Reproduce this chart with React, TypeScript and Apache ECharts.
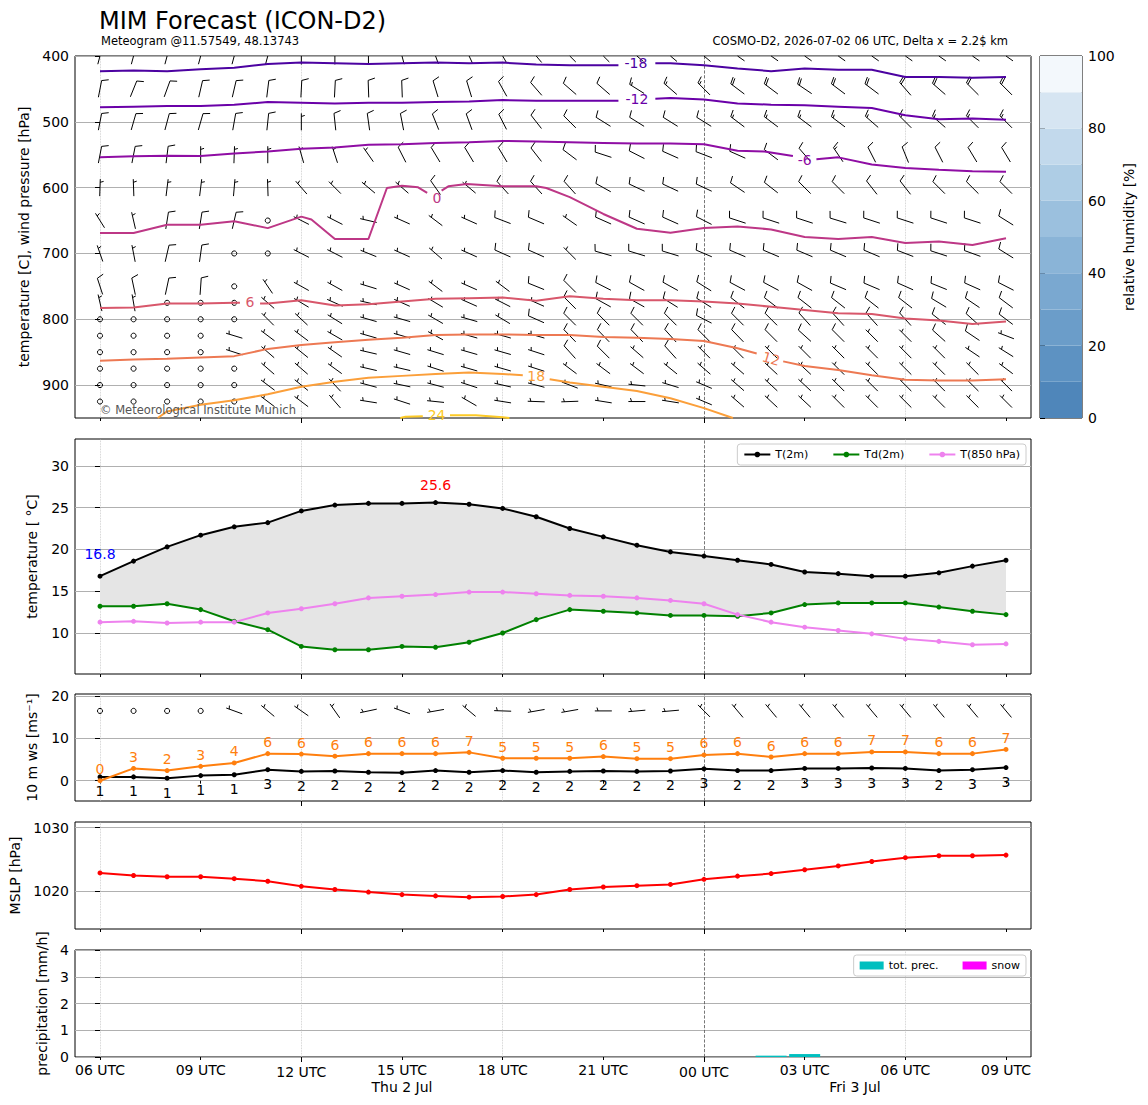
import React, { useEffect, useRef } from 'react';
import * as echarts from 'echarts';

const FONT = 'DejaVu Sans';

// ---------------- time axis (hours after 2026-07-02 06 UTC) ----------------
const HOURS = [0, 1, 2, 3, 4, 5, 6, 7, 8, 9, 10, 11, 12, 13, 14, 15, 16, 17, 18, 19, 20, 21, 22, 23, 24, 25, 26, 27];
const START_UTC_HOUR = 6;
const MINOR_TICKS = [0, 3, 9, 12, 15, 21, 24, 27];
const MAJOR_TICKS = [6, 18];
const GRID_HOURS = [0, 6, 12, 24];
const MIDNIGHT_HOURS = [18];
const DATE_LABELS = ['Thu 2 Jul', 'Fri 3 Jul'];

// ---------------- panel 2: temperatures ----------------
const T_2M = [16.8, 18.6, 20.3, 21.7, 22.7, 23.2, 24.6, 25.3, 25.5, 25.5, 25.6, 25.4, 24.9, 23.9, 22.5, 21.5, 20.5, 19.7, 19.2, 18.7, 18.2, 17.3, 17.1, 16.8, 16.8, 17.2, 18.0, 18.7];
const TD_2M = [13.2, 13.2, 13.5, 12.8, 11.4, 10.4, 8.4, 8.0, 8.0, 8.4, 8.3, 8.9, 10.0, 11.6, 12.8, 12.6, 12.4, 12.1, 12.1, 12.0, 12.4, 13.4, 13.6, 13.6, 13.6, 13.1, 12.6, 12.2];
const T_850 = [11.3, 11.4, 11.2, 11.3, 11.3, 12.4, 12.9, 13.5, 14.2, 14.4, 14.6, 14.9, 14.9, 14.7, 14.5, 14.4, 14.2, 13.9, 13.5, 12.2, 11.3, 10.7, 10.3, 9.9, 9.3, 9.0, 8.6, 8.7];

// ---------------- panel 3: 10 m wind ----------------
const WS_10M = [0.9, 0.9, 0.6, 1.2, 1.4, 2.6, 2.2, 2.3, 2.0, 1.9, 2.4, 2.0, 2.4, 2.0, 2.2, 2.3, 2.2, 2.3, 2.8, 2.4, 2.4, 2.9, 2.9, 3.0, 2.9, 2.4, 2.6, 3.1];
const GUST_10M = [0.0, 2.9, 2.4, 3.4, 4.2, 6.4, 6.3, 5.8, 6.4, 6.4, 6.4, 6.7, 5.3, 5.3, 5.3, 5.7, 5.2, 5.2, 6.1, 6.4, 5.6, 6.4, 6.4, 6.8, 6.8, 6.4, 6.4, 7.4];
const DIR_10M = [0, 0, 0, 0, 290, 310, 305, 325, 258, 290, 260, 310, 272, 260, 260, 270, 265, 265, 315, 320, 320, 320, 320, 320, 320, 320, 320, 320];
const BARB_ROW_10M = 16.5;
const MS_TO_KT = 1.94384;

// ---------------- panel 4: MSLP ----------------
const MSLP = [1022.9, 1022.5, 1022.3, 1022.3, 1022.0, 1021.6, 1020.8, 1020.3, 1019.9, 1019.5, 1019.3, 1019.1, 1019.2, 1019.5, 1020.3, 1020.7, 1020.9, 1021.1, 1021.9, 1022.4, 1022.8, 1023.4, 1024.0, 1024.7, 1025.3, 1025.6, 1025.6, 1025.7];

// ---------------- panel 5: precipitation ----------------
const PRECIP = [0, 0, 0, 0, 0, 0, 0, 0, 0, 0, 0, 0, 0, 0, 0, 0, 0, 0, 0, 0, 0.05, 0.11, 0, 0, 0, 0, 0, 0];
const SNOW = [0, 0, 0, 0, 0, 0, 0, 0, 0, 0, 0, 0, 0, 0, 0, 0, 0, 0, 0, 0, 0, 0, 0, 0, 0, 0, 0, 0];

// ---------------- panel 1: upper-air winds (direction deg, speed kt) ----------------
const LEVELS = [400, 450, 500, 550, 600, 650, 700, 750, 775, 800, 825, 850, 875, 900, 925];
const DIR_400 = [15, 15, 15, 15, 15, 15, 0, 0, 0, 345, 340, 335, 330, 320, 315, 315, 310, 310, 310, 305, 305, 305, 305, 305, 305, 305, 305, 305];
const SPD_400 = [10, 10, 10, 10, 10, 10, 10, 10, 10, 15, 15, 15, 15, 15, 15, 15, 15, 15, 15, 20, 20, 20, 20, 20, 20, 20, 20, 20];
const DIR_450 = [11, 22, 20, 13, 13, 7, 3, 3, 358, 358, 343, 343, 331, 319, 311, 311, 302, 311, 315, 307, 307, 304, 307, 307, 319, 311, 315, 315];
const SPD_450 = [10, 10, 10, 10, 10, 10, 10, 10, 10, 10, 10, 10, 10, 10, 10, 10, 15, 15, 15, 20, 20, 20, 20, 20, 20, 20, 20, 20];
const DIR_500 = [11, 16, 15, 16, 10, 6, 0, 354, 352, 349, 338, 340, 333, 322, 315, 302, 302, 302, 302, 307, 307, 307, 307, 311, 315, 311, 315, 315];
const SPD_500 = [10, 10, 10, 10, 10, 10, 5, 10, 10, 10, 10, 10, 10, 10, 10, 10, 10, 10, 10, 15, 15, 15, 15, 15, 15, 15, 15, 15];
const DIR_550 = [11, 11, 7, 0, 2, 0, 344, 342, 325, 333, 329, 329, 329, 322, 307, 288, 297, 294, 291, 294, 307, 319, 326, 333, 338, 333, 329, 329];
const SPD_550 = [10, 10, 10, 5, 5, 5, 5, 5, 5, 10, 10, 10, 10, 10, 10, 10, 10, 10, 10, 10, 10, 10, 15, 10, 10, 10, 10, 10];
const DIR_600 = [2, 358, 7, 7, 5, 358, 319, 315, 310, 311, 325, 310, 318, 318, 318, 299, 295, 295, 295, 304, 308, 315, 315, 322, 322, 315, 315, 315];
const SPD_600 = [5, 5, 5, 5, 5, 5, 5, 5, 5, 5, 10, 5, 10, 10, 10, 10, 10, 10, 10, 10, 10, 10, 10, 10, 10, 10, 10, 10];
const DIR_650 = [328, 347, 9, 9, 13, 0, 297, 297, 283, 294, 307, 294, 291, 293, 305, 294, 294, 294, 297, 288, 288, 288, 287, 288, 288, 288, 288, 302];
const SPD_650 = [5, 5, 10, 10, 10, 0, 5, 5, 5, 5, 5, 5, 10, 10, 5, 10, 10, 10, 10, 10, 10, 10, 10, 10, 10, 10, 10, 10];
const DIR_700 = [341, 349, 13, 8, 0, 0, 297, 297, 292, 294, 311, 294, 294, 294, 315, 286, 287, 287, 293, 293, 293, 293, 293, 293, 291, 288, 290, 302];
const SPD_700 = [5, 5, 10, 10, 0, 0, 5, 5, 5, 5, 5, 5, 10, 10, 5, 10, 10, 10, 10, 10, 10, 10, 10, 10, 10, 10, 10, 10];
const DIR_750 = [342, 348, 12, 4, 0, 326, 299, 299, 287, 294, 307, 294, 307, 292, 315, 297, 299, 299, 302, 298, 298, 299, 293, 293, 294, 292, 294, 297];
const SPD_750 = [10, 10, 10, 10, 0, 5, 5, 5, 5, 5, 5, 5, 5, 10, 10, 10, 10, 10, 10, 10, 10, 10, 10, 10, 10, 10, 10, 10];
const DIR_775 = [347, 350, 0, 0, 0, 311, 301, 294, 283, 294, 301, 294, 297, 294, 315, 299, 299, 302, 302, 308, 308, 308, 308, 308, 308, 301, 304, 307];
const SPD_775 = [5, 5, 0, 0, 0, 5, 5, 5, 5, 5, 5, 5, 5, 5, 10, 10, 10, 10, 10, 10, 10, 10, 10, 10, 10, 10, 10, 10];
const DIR_800 = [0, 0, 0, 0, 0, 315, 313, 302, 286, 286, 300, 286, 301, 294, 315, 315, 315, 315, 297, 315, 315, 318, 318, 318, 318, 308, 312, 307];
const SPD_800 = [0, 0, 0, 0, 0, 5, 5, 5, 5, 5, 5, 5, 5, 10, 10, 10, 10, 10, 10, 10, 10, 10, 10, 10, 10, 10, 10, 10];
const DIR_825 = [0, 0, 0, 0, 287, 307, 307, 300, 286, 286, 299, 286, 286, 286, 316, 316, 316, 318, 315, 316, 315, 312, 315, 315, 315, 312, 304, 291];
const SPD_825 = [0, 0, 0, 0, 5, 5, 5, 5, 5, 5, 5, 5, 5, 5, 10, 10, 10, 10, 10, 10, 10, 10, 10, 5, 5, 10, 10, 5];
const DIR_850 = [0, 0, 0, 0, 288, 311, 309, 305, 283, 286, 287, 286, 286, 288, 318, 315, 311, 318, 315, 315, 315, 315, 315, 315, 315, 315, 304, 302];
const SPD_850 = [0, 0, 0, 0, 5, 5, 5, 5, 5, 5, 5, 5, 5, 5, 10, 10, 5, 10, 5, 5, 5, 5, 5, 5, 5, 5, 5, 5];
const DIR_875 = [0, 0, 0, 0, 0, 311, 311, 306, 283, 283, 288, 286, 286, 288, 307, 307, 307, 309, 311, 311, 313, 313, 315, 315, 315, 315, 315, 307];
const SPD_875 = [0, 0, 0, 0, 0, 5, 5, 5, 5, 5, 5, 5, 5, 5, 5, 5, 5, 5, 5, 5, 5, 5, 5, 5, 5, 5, 5, 5];
const DIR_900 = [0, 0, 0, 0, 0, 307, 309, 317, 285, 282, 285, 288, 283, 285, 291, 283, 276, 287, 293, 311, 313, 313, 315, 315, 315, 315, 315, 315];
const SPD_900 = [0, 0, 0, 0, 0, 5, 5, 5, 5, 5, 5, 5, 5, 5, 5, 5, 5, 5, 5, 5, 5, 5, 5, 5, 5, 5, 5, 5];
const DIR_925 = [0, 0, 0, 0, 0, 307, 307, 319, 279, 288, 276, 300, 279, 272, 268, 279, 270, 279, 293, 311, 313, 313, 315, 315, 315, 315, 315, 315];
const SPD_925 = [0, 0, 0, 0, 0, 5, 5, 5, 5, 5, 5, 5, 5, 5, 5, 5, 5, 5, 5, 5, 5, 5, 5, 5, 5, 5, 5, 5];
const WIND_DIR = [DIR_400, DIR_450, DIR_500, DIR_550, DIR_600, DIR_650, DIR_700, DIR_750, DIR_775, DIR_800, DIR_825, DIR_850, DIR_875, DIR_900, DIR_925];
const WIND_SPD = [SPD_400, SPD_450, SPD_500, SPD_550, SPD_600, SPD_650, SPD_700, SPD_750, SPD_775, SPD_800, SPD_825, SPD_850, SPD_875, SPD_900, SPD_925];

// ---------------- panel 1: isotherms [hour, hPa], split at inline labels ----------------
const CONTOUR_LEVELS = [-18, -12, -6, 0, 6, 12, 18, 24];
const CONTOUR_COLORS = ['#4c02a1', '#6a00a8', '#8f0da4', '#bd3786', '#d8576b', '#ed7953', '#fb9f3a', '#fdca26'];
const ISO_M18 = [
  [[0, 423], [1, 422], [2, 423], [3, 420], [4, 418], [5, 412], [6, 410], [7, 411], [8, 412], [9, 411], [10, 410], [11, 411], [12, 410], [13, 413], [14, 414], [15, 414], [15.45, 414]],
  [[16.55, 411], [17, 411], [18, 414], [19, 419], [20, 423], [21, 419], [22, 421], [23, 421], [24, 432], [25, 432], [26, 433], [27, 432]],
];
const ISO_M12 = [
  [[0, 478], [1, 477], [2, 476], [3, 476], [4, 474], [5, 470], [6, 471], [7, 472], [8, 471], [9, 471], [10, 470], [11, 469], [12, 467], [13, 468], [14, 468], [15, 468], [15.45, 468]],
  [[16.55, 465], [17, 464], [18, 466], [19, 472], [20, 474], [21, 475], [22, 477], [23, 479], [24, 490], [25, 496], [26, 495], [27, 497]],
];
const ISO_M6 = [
  [[0, 554], [1, 552.5], [2, 551.5], [3, 552], [4, 548], [5, 545], [6, 541], [7, 539], [8, 535], [9, 534], [10, 532], [11, 531], [12, 529], [13, 530], [14, 531], [15, 532], [16, 533], [17, 533], [18, 534], [19, 544], [19.8, 545], [20.65, 552]],
  [[21.35, 557], [22, 554], [23, 565], [24, 570], [25, 573], [26, 575], [27, 576]],
];
const ISO_0 = [
  [[0, 669], [1, 669], [2, 656.5], [3, 656.5], [4, 651], [5, 661.5], [6, 644], [6.3, 648.5], [7, 678], [8, 678], [8.55, 600.5], [9, 597], [9.48, 599.5], [9.75, 608]],
  [[10.18, 604.5], [10.38, 598], [10.93, 594.5], [12, 598], [13, 598], [13.3, 600.5], [14, 614.5], [15, 640], [16, 662.5], [17, 668.5], [18, 661.5], [19, 659], [20, 663.5], [21, 675], [22, 678], [23, 675], [24, 684], [25, 682], [26, 687], [27, 677]],
];
const ISO_6 = [
  [[0, 783], [1, 782], [2, 776], [3, 776], [4, 775], [4.17, 775]],
  [[4.77, 776], [5, 776], [6, 771], [7, 779], [8, 777], [9, 773], [10, 769], [11, 768], [12, 767], [13, 772], [14, 765], [15, 769], [16, 771], [17, 771], [18, 773], [19, 776], [20, 781], [21, 786], [22, 791], [23, 792], [24, 799], [25, 802], [26, 807], [27, 803.5]],
];
const ISO_12 = [
  [[0, 863], [1, 861], [2, 860], [3, 858], [4, 856], [5, 845], [6, 839], [7, 835], [8, 831], [9, 828], [10, 824], [11, 823], [12, 823], [13, 824], [14, 824], [15, 827], [16, 828], [17, 830], [18, 833], [19, 844], [19.57, 852]],
  [[20.36, 864], [21, 871], [22, 877], [23, 885], [24, 892], [25, 893], [26, 893], [27, 891]],
];
const ISO_18 = [
  [[1.72, 950], [2, 940], [3, 930], [4, 923], [5, 914], [6, 902.5], [7, 895], [8, 889], [9, 886], [10, 883], [11, 881], [12, 883], [12.6, 885]],
  [[13.4, 891], [14, 896], [15, 902.5], [16, 909], [17, 920], [18, 935], [18.86, 950]],
];
const ISO_24 = [
  [[8.95, 950], [9.1, 948], [9.62, 947.5]],
  [[10.43, 946], [11.2, 946], [12, 949], [12.2, 950]],
];
const CONTOURS = [ISO_M18, ISO_M12, ISO_M6, ISO_0, ISO_6, ISO_12, ISO_18, ISO_24];
const CONTOUR_LABEL_POS = [[15.97, 411], [16.0, 466], [21.0, 558], [10.04, 616], [4.47, 774], [20.0, 860], [13.0, 886.5], [10.03, 946]];
const CONTOUR_LABEL_ROT = [0, 0, 0, 0, 0, -16, 0, 0];

// ---------------- colorbar (relative humidity) ----------------
const RH_LEVELS = [0, 10, 20, 30, 40, 50, 60, 70, 80, 90, 100];
const RH_COLORS = ['#4f86ba', '#5d92c2', '#6b9dc9', '#7aa8d0', '#8ab4d7', '#9bc0de', '#aecde5', '#c2d9ec', '#d6e5f2', '#f3f8fc'];

// ---------------- geometry ----------------
const X_MIN = -0.745;
const X_MAX = 27.745;
const BARB_LEN = 17;
const FS = 14;

const fmtHour = (v: number) => `${String((START_UTC_HOUR + Math.round(v)) % 24).padStart(2, '0')} UTC`;

function clipSeg(x1: number, y1: number, x2: number, y2: number, r: any) {
  let t0 = 0;
  let t1 = 1;
  const dx = x2 - x1;
  const dy = y2 - y1;
  const p = [-dx, dx, -dy, dy];
  const q = [x1 - r.x, r.x + r.width - x1, y1 - r.y, r.y + r.height - y1];
  for (let i = 0; i < 4; i++) {
    if (p[i] === 0) {
      if (q[i] < 0) return null;
    } else {
      const t = q[i] / p[i];
      if (p[i] < 0) {
        if (t > t1) return null;
        if (t > t0) t0 = t;
      } else {
        if (t < t0) return null;
        if (t < t1) t1 = t;
      }
    }
  }
  return { x1: x1 + t0 * dx, y1: y1 + t0 * dy, x2: x1 + t1 * dx, y2: y1 + t1 * dy };
}

function barbRender(params: any, api: any) {
  const rect = params.coordSys;
  const c = api.coord([api.value(0), api.value(1)]);
  const cx = c[0];
  const cy = c[1];
  const dir = api.value(2);
  const spd = 5 * Math.round(api.value(3) / 5);
  const style = { stroke: '#000', lineWidth: 1, fill: 'none' };
  if (!(spd > 0)) {
    return { type: 'circle', shape: { cx, cy, r: 0.15 * BARB_LEN }, style };
  }
  const th = (dir * Math.PI) / 180;
  const ux = Math.sin(th);
  const uy = -Math.cos(th);
  const rx = -uy;
  const ry = ux;
  const L = BARB_LEN;
  const H = 0.4 * L;
  const W = 0.25 * L;
  const S = 0.125 * L;
  const tx = cx - (ux * L) / 2;
  const ty = cy - (uy * L) / 2;
  const segs: number[][] = [[tx, ty, tx + ux * L, ty + uy * L]];
  const nFull = Math.floor(spd / 10);
  const half = spd - 10 * nFull >= 5;
  let off = L;
  for (let i = 0; i < nFull; i++) {
    const bx = tx + ux * off;
    const by = ty + uy * off;
    segs.push([bx, by, bx + rx * H + (ux * W) / 2, by + ry * H + (uy * W) / 2]);
    off -= S;
  }
  if (half) {
    if (off === L) off -= 1.5 * S;
    const bx = tx + ux * off;
    const by = ty + uy * off;
    segs.push([bx, by, bx + (rx * H) / 2 + (ux * W) / 4, by + (ry * H) / 2 + (uy * W) / 4]);
  }
  const children: any[] = [];
  segs.forEach((s) => {
    const cs = clipSeg(s[0], s[1], s[2], s[3], rect);
    if (cs) children.push({ type: 'line', shape: cs, style });
  });
  return { type: 'group', children };
}

function isoLabelRender(params: any, api: any) {
  const i = params.dataIndex;
  const c = api.coord([api.value(0), api.value(1)]);
  return {
    type: 'text',
    x: c[0],
    y: c[1],
    rotation: (CONTOUR_LABEL_ROT[i] * Math.PI) / 180,
    style: { text: String(CONTOUR_LEVELS[i]), fill: CONTOUR_COLORS[i], fontSize: FS, fontFamily: FONT, align: 'center', verticalAlign: 'middle' },
  };
}

function bandRender(params: any, api: any) {
  const upper = HOURS.map((h) => api.coord([h, T_2M[h]]));
  const lower = HOURS.map((h) => api.coord([h, TD_2M[h]])).reverse();
  return { type: 'polygon', shape: { points: upper.concat(lower) }, style: { fill: '#e5e5e5' } };
}

function rhBandRender(params: any, api: any) {
  const a = api.coord([0, api.value(1)]);
  const b = api.coord([1, api.value(2)]);
  return { type: 'rect', shape: { x: a[0], y: b[1], width: b[0] - a[0], height: a[1] - b[1] }, style: { fill: RH_COLORS[params.dataIndex] } };
}

const vgrid = () => ({
  silent: true,
  symbol: ['none', 'none'],
  z: 1,
  label: { show: false },
  emphasis: { disabled: true },
  data: [
    ...GRID_HOURS.map((h) => ({ xAxis: h, lineStyle: { type: 'dotted', color: '#c4c4c4', width: 0.8 } })),
    ...MIDNIGHT_HOURS.map((h) => ({ xAxis: h, lineStyle: { type: 'dashed', color: '#555555', width: 0.8 } })),
  ],
});

function xAxisPair(gridIndex: number, labels: boolean) {
  const base = { type: 'value', gridIndex, position: 'bottom', min: X_MIN, max: X_MAX, axisLine: { show: false }, splitLine: { show: false } };
  return [
    {
      ...base,
      axisTick: { show: true, length: 3, customValues: MINOR_TICKS, lineStyle: { color: '#000', width: 1 } },
      axisLabel: labels
        ? { show: true, customValues: MINOR_TICKS, formatter: fmtHour, fontSize: FS, color: '#000', fontFamily: FONT, margin: 6 }
        : { show: false },
    },
    {
      ...base,
      axisTick: { show: true, length: 5, customValues: MAJOR_TICKS, lineStyle: { color: '#000', width: 1 } },
      axisLabel: labels
        ? { show: true, customValues: MAJOR_TICKS, formatter: fmtHour, fontSize: FS, color: '#000', fontFamily: FONT, margin: 8 }
        : { show: false },
    },
  ];
}

function yAxisDef(gridIndex: number, min: number, max: number, ticks: number[], name: string, nameGap: number, extra: any = {}) {
  return {
    type: 'value',
    gridIndex,
    min,
    max,
    name,
    nameLocation: 'middle',
    nameGap,
    nameTextStyle: { fontSize: FS, color: '#000', fontFamily: FONT },
    axisLine: { show: false },
    axisTick: { show: true, length: 5, customValues: ticks, lineStyle: { color: '#000' } },
    axisLabel: { customValues: ticks, fontSize: FS, color: '#000', fontFamily: FONT, margin: 6, formatter: (v: number) => String(v) },
    splitLine: { show: true, lineStyle: { color: '#b0b0b0', width: 1 } },
    ...extra,
  };
}

function buildOption() {
  const upperBarbs: any[] = [];
  LEVELS.forEach((lv, i) => HOURS.forEach((h) => upperBarbs.push([h, lv, WIND_DIR[i][h], WIND_SPD[i][h]])));
  const barbs10m = HOURS.map((h) => [h, BARB_ROW_10M, DIR_10M[h], WS_10M[h] * MS_TO_KT]);

  const iMax = T_2M.indexOf(Math.max(...T_2M));
  const iMin = T_2M.indexOf(Math.min(...T_2M));

  const lineCommon = { symbol: 'circle', symbolSize: 5, showSymbol: true, silent: true, z: 3 };

  const series: any[] = [];
  // ---- panel 1
  series.push({ type: 'custom', name: 'barbs-upper', xAxisIndex: 0, yAxisIndex: 0, renderItem: barbRender, encode: { x: 0, y: 1 }, data: upperBarbs, silent: true, z: 2 });
  CONTOURS.forEach((segs, ci) =>
    segs.forEach((seg, si) =>
      series.push({
        type: 'line',
        name: `iso${CONTOUR_LEVELS[ci]}_${si}`,
        xAxisIndex: 0,
        yAxisIndex: 0,
        data: seg,
        symbol: 'none',
        showSymbol: false,
        silent: true,
        lineStyle: { color: CONTOUR_COLORS[ci], width: 2 },
        z: 3,
        ...(ci === 0 && si === 0 ? { markLine: vgrid() } : {}),
      })
    )
  );
  series.push({ type: 'custom', name: 'iso-labels', xAxisIndex: 0, yAxisIndex: 0, renderItem: isoLabelRender, encode: { x: 0, y: 1 }, data: CONTOUR_LABEL_POS, silent: true, z: 4 });

  // ---- colorbar
  series.push({
    type: 'custom',
    name: 'rh-bands',
    xAxisIndex: 2,
    yAxisIndex: 1,
    renderItem: rhBandRender,
    encode: { x: 0, y: [1, 2] },
    data: RH_COLORS.map((_, i) => [0.5, RH_LEVELS[i], RH_LEVELS[i + 1]]),
    silent: true,
  });

  // ---- panel 2
  series.push({ type: 'custom', name: 'spread', xAxisIndex: 3, yAxisIndex: 2, renderItem: bandRender, encode: { x: 0, y: 1 }, data: [[HOURS[0], T_2M[0]]], silent: true, z: 1 });
  series.push({
    ...lineCommon,
    type: 'line',
    name: 'T(2m)',
    xAxisIndex: 3,
    yAxisIndex: 2,
    data: HOURS.map((h) => {
      const item: any = { value: [h, T_2M[h]] };
      if (h === iMax) item.label = { show: true, position: 'top', distance: 8, color: '#ff0000', fontSize: FS, fontFamily: FONT, formatter: T_2M[h].toFixed(1) };
      else if (h === iMin) item.label = { show: true, position: 'top', distance: 13, color: '#0000ff', fontSize: FS, fontFamily: FONT, formatter: T_2M[h].toFixed(1) };
      return item;
    }),
    itemStyle: { color: '#000000' },
    lineStyle: { color: '#000000', width: 2 },
    markLine: vgrid(),
  });
  series.push({ ...lineCommon, type: 'line', name: 'Td(2m)', xAxisIndex: 3, yAxisIndex: 2, data: HOURS.map((h) => [h, TD_2M[h]]), itemStyle: { color: '#008000' }, lineStyle: { color: '#008000', width: 2 } });
  series.push({ ...lineCommon, type: 'line', name: 'T(850 hPa)', xAxisIndex: 3, yAxisIndex: 2, data: HOURS.map((h) => [h, T_850[h]]), itemStyle: { color: '#ee82ee' }, lineStyle: { color: '#ee82ee', width: 2 } });

  // ---- panel 3
  series.push({
    ...lineCommon,
    type: 'line',
    name: 'ws10',
    xAxisIndex: 5,
    yAxisIndex: 3,
    data: HOURS.map((h) => [h, WS_10M[h]]),
    itemStyle: { color: '#000000' },
    lineStyle: { color: '#000000', width: 2 },
    label: { show: true, position: 'bottom', distance: 5, fontSize: FS, fontFamily: FONT, color: '#000', formatter: (p: any) => String(Math.round(p.value[1])) },
    markLine: vgrid(),
  });
  series.push({
    ...lineCommon,
    type: 'line',
    name: 'gust10',
    xAxisIndex: 5,
    yAxisIndex: 3,
    data: HOURS.map((h) => [h, GUST_10M[h]]),
    itemStyle: { color: '#ff7f0e' },
    lineStyle: { color: '#ff7f0e', width: 2 },
    label: { show: true, position: 'top', distance: 2, fontSize: FS, fontFamily: FONT, color: '#ff7f0e', formatter: (p: any) => String(Math.round(p.value[1])) },
  });
  series.push({ type: 'custom', name: 'barbs-10m', xAxisIndex: 5, yAxisIndex: 3, renderItem: barbRender, encode: { x: 0, y: 1 }, data: barbs10m, silent: true, z: 2 });

  // ---- panel 4
  series.push({ ...lineCommon, type: 'line', name: 'MSLP', xAxisIndex: 7, yAxisIndex: 4, data: HOURS.map((h) => [h, MSLP[h]]), itemStyle: { color: '#ff0000' }, lineStyle: { color: '#ff0000', width: 2 }, markLine: vgrid() });

  // ---- panel 5
  series.push({ type: 'bar', name: 'tot. prec.', xAxisIndex: 9, yAxisIndex: 5, barWidth: 31, barGap: '-100%', data: HOURS.map((h) => [h, PRECIP[h]]), itemStyle: { color: '#00bfbf' }, silent: true, markLine: vgrid() });
  series.push({ type: 'bar', name: 'snow', xAxisIndex: 9, yAxisIndex: 5, barWidth: 31, barGap: '-100%', data: HOURS.map((h) => [h, SNOW[h]]), itemStyle: { color: '#ff00ff' }, silent: true });

  const gridBase = { show: true, borderColor: '#000', borderWidth: 1, backgroundColor: 'transparent', containLabel: false, outerBoundsMode: 'none' };

  return {
    animation: false,
    textStyle: { fontFamily: FONT },
    grid: [
      { ...gridBase, left: 75, top: 56, width: 956, height: 362 },
      { ...gridBase, left: 1040, top: 56, width: 42, height: 362 },
      { ...gridBase, left: 75, top: 439, width: 956, height: 235 },
      { ...gridBase, left: 75, top: 694, width: 956, height: 107 },
      { ...gridBase, left: 75, top: 822, width: 956, height: 107 },
      { ...gridBase, left: 75, top: 950, width: 956, height: 107 },
    ],
    xAxis: [
      ...xAxisPair(0, false),
      { type: 'value', gridIndex: 1, min: 0, max: 1, show: false },
      ...xAxisPair(2, false),
      ...xAxisPair(3, false),
      ...xAxisPair(4, false),
      ...xAxisPair(5, true),
    ],
    yAxis: [
      yAxisDef(0, 400, 950, [400, 500, 600, 700, 800, 900], 'temperature [C], wind pressure [hPa]', 43, { inverse: true }),
      {
        type: 'value',
        gridIndex: 1,
        position: 'right',
        min: 0,
        max: 100,
        interval: 20,
        name: 'relative humidity [%]',
        nameLocation: 'middle',
        nameGap: 40,
        nameRotate: 90,
        nameTextStyle: { fontSize: FS, color: '#000', fontFamily: FONT },
        axisLine: { show: false },
        axisTick: { show: true, length: 5, lineStyle: { color: '#000' } },
        axisLabel: { fontSize: FS, color: '#000', fontFamily: FONT, margin: 6 },
        splitLine: { show: false },
      },
      yAxisDef(2, 5.1, 33.2, [10, 15, 20, 25, 30], 'temperature [ °C]', 36),
      yAxisDef(3, -4.8, 20.5, [0, 10, 20], '10 m ws [ms⁻¹]', 36),
      yAxisDef(4, 1014.1, 1030.9, [1020, 1030], 'MSLP [hPa]', 51),
      yAxisDef(5, 0, 4, [0, 1, 2, 3, 4], 'precipitation [mm/h]', 25),
    ],
    legend: [
      {
        data: ['T(2m)', 'Td(2m)', 'T(850 hPa)'],
        right: 122,
        top: 444,
        itemWidth: 26,
        itemHeight: 7,
        itemGap: 24,
        padding: [5, 6],
        borderColor: '#cccccc',
        borderWidth: 1,
        borderRadius: 3,
        backgroundColor: 'rgba(255,255,255,0.8)',
        textStyle: { fontSize: 11, color: '#000', fontFamily: FONT },
        selectedMode: false,
      },
      {
        data: ['tot. prec.', 'snow'],
        right: 122,
        top: 955,
        icon: 'rect',
        itemWidth: 24,
        itemHeight: 8,
        itemGap: 24,
        padding: [5, 6],
        borderColor: '#cccccc',
        borderWidth: 1,
        borderRadius: 3,
        backgroundColor: 'rgba(255,255,255,0.8)',
        textStyle: { fontSize: 11, color: '#000', fontFamily: FONT },
        selectedMode: false,
      },
    ],
    graphic: {
      elements: [
        { type: 'text', x: 99, y: 21, silent: true, style: { text: 'MIM Forecast (ICON-D2)', fontSize: 24, fontFamily: FONT, fill: '#000', align: 'left', verticalAlign: 'middle' } },
        { type: 'text', x: 101, y: 41, silent: true, style: { text: 'Meteogram @11.57549, 48.13743', fontSize: 11.5, fontFamily: FONT, fill: '#000', align: 'left', verticalAlign: 'middle' } },
        { type: 'text', x: 1008, y: 41, silent: true, style: { text: 'COSMO-D2, 2026-07-02 06 UTC, Delta x = 2.2$ km', fontSize: 11.5, fontFamily: FONT, fill: '#000', align: 'right', verticalAlign: 'middle' } },
        { type: 'text', x: 100, y: 410, silent: true, z: 10, style: { text: '© Meteorological Institute Munich', fontSize: 11.5, fontFamily: FONT, fill: '#555555', align: 'left', verticalAlign: 'middle' } },
        { type: 'text', x: 402, y: 1087, silent: true, style: { text: DATE_LABELS[0], fontSize: FS, fontFamily: FONT, fill: '#000', align: 'center', verticalAlign: 'middle' } },
        { type: 'text', x: 855, y: 1087, silent: true, style: { text: DATE_LABELS[1], fontSize: FS, fontFamily: FONT, fill: '#000', align: 'center', verticalAlign: 'middle' } },
      ],
    },
    series,
  };
}

export default function App() {
  const ref = useRef<HTMLDivElement>(null);
  useEffect(() => {
    document.body.style.margin = '0';
    const chart = echarts.init(ref.current as HTMLDivElement, undefined, { renderer: 'svg' });
    chart.setOption(buildOption() as any);
    return () => chart.dispose();
  }, []);
  return <div ref={ref} style={{ width: 1148, height: 1105 }} />;
}
